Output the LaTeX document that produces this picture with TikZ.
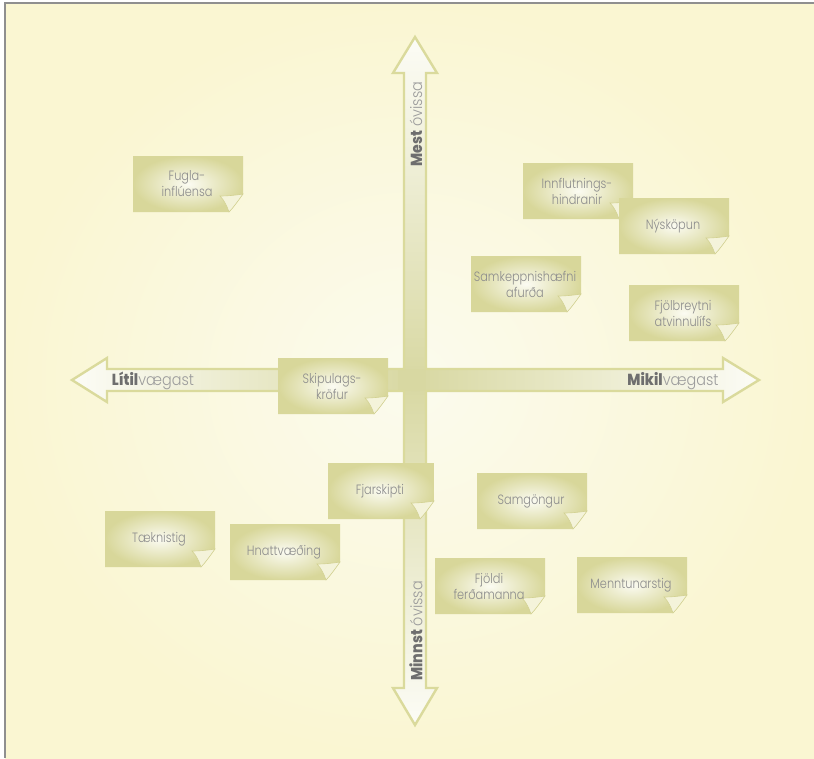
\documentclass[tikz,border=0pt]{standalone}
\usepackage{fontspec}
\setmainfont{Poppins}
\newfontfamily\lightfont{Poppins Light}[FakeStretch=0.84]
\newfontfamily\axisfont{Poppins Light}[FakeStretch=0.9]
\newfontfamily\axisbold{Poppins ExtraBold}[FakeStretch=0.88]

\definecolor{bginner}{HTML}{FBFBEE}
\definecolor{bgouter}{HTML}{FAF6D2}
\definecolor{framegray}{HTML}{8F8F8F}
\definecolor{arrowline}{HTML}{DADA9C}
\definecolor{arrowlight}{HTML}{FCFCF6}
\definecolor{arrowmid}{HTML}{EEEED6}
\definecolor{arrowdark}{HTML}{D8D8A2}
\definecolor{noteouter}{HTML}{D8D79A}
\definecolor{noteinner}{HTML}{FBFBF2}
\definecolor{curlfill}{HTML}{F4F3DA}
\definecolor{curlline}{HTML}{D2D192}
\definecolor{notegray}{HTML}{8C8C8C}
\definecolor{boldgray}{HTML}{6E6E6E}
\definecolor{lightgray}{HTML}{9C9C9C}

\tikzset{
  notebody/.style={inner color=noteinner, outer color=noteouter},
  curlpiece/.style={fill=curlfill, draw=curlline, line width=0.6},
  notetext/.style={font=\lightfont\fontsize{13.5}{16}\selectfont, text=notegray,
    align=center, inner sep=0pt},
  axistext/.style={font=\axisfont\fontsize{16}{18}\selectfont, text=lightgray, inner sep=0pt},
  crossline/.style={draw=arrowline, line width=2.4, line join=miter},
}

% sticky note: name, left, top, width, text
\newcommand{\stickynote}[5]{%
  \begin{scope}[shift={(#2,#3)}]
    \shade[notebody] (0,0) -- (#4,0) -- (#4,38)
      .. controls ({#4-5},45) and ({#4-10},52) .. ({#4-14},56) -- (0,56) -- cycle;
    \path[curlpiece] ({#4-23},40) .. controls ({#4-15},40) and ({#4-6},39) .. (#4,38)
      .. controls ({#4-5},45) and ({#4-10},52) .. ({#4-14},56)
      .. controls ({#4-16},50) and ({#4-19},44) .. ({#4-23},40) -- cycle;
    \node[notetext] (#1) at ({#4/2-1},28) {#5};
  \end{scope}}

\begin{document}
\begin{tikzpicture}[x=1pt,y=-1pt]
\useasboundingbox (0,0) rectangle (814,758);

% page and frame
\fill[white] (0,0) rectangle (814,758);
\shade[inner color=bginner, outer color=bgouter] (5,3) rectangle (814,758);
\draw[framegray, line width=1.6] (5,758) -- (5,3) -- (814,3);

% four arrows, shaded from the centre outwards
\shade[top color=arrowlight, middle color=arrowmid, bottom color=arrowdark]
  (404,380) -- (404,73) -- (393,73) -- (415,37) -- (437,73) -- (426,73) -- (426,380) -- cycle;
\shade[top color=arrowdark, middle color=arrowmid, bottom color=arrowlight]
  (404,380) -- (404,688) -- (393,688) -- (415,725) -- (437,688) -- (426,688) -- (426,380) -- cycle;
\shade[left color=arrowlight, middle color=arrowmid, right color=arrowdark]
  (415,369) -- (107,369) -- (107,358) -- (72,380) -- (107,402) -- (107,391) -- (415,391) -- cycle;
\shade[left color=arrowdark, middle color=arrowmid, right color=arrowlight]
  (415,369) -- (723,369) -- (723,358) -- (759,380) -- (723,402) -- (723,391) -- (415,391) -- cycle;
\fill[arrowdark] (398,369) rectangle (426,391);

% outline of the cross
\path[crossline] (404,369) -- (404,73) -- (393,73) -- (415,37) -- (437,73) -- (426,73)
  -- (426,369) -- (723,369) -- (723,358) -- (759,380) -- (723,402) -- (723,391)
  -- (426,391) -- (426,688) -- (437,688) -- (415,725) -- (393,688) -- (404,688)
  -- (404,391) -- (107,391) -- (107,402) -- (72,380) -- (107,358) -- (107,369) -- cycle;

% axis labels
\node[axistext] (lowlabel) at (153,381) {\textcolor{boldgray}{\axisbold Lítil}vægast};
\node[axistext] (highlabel) at (673,381) {\textcolor{boldgray}{\axisbold Mikil}vægast};
\node[axistext, rotate=90] (mostlabel) at (416,124) {\textcolor{boldgray}{\axisbold Mest} óvissa};
\node[axistext, rotate=90] (leastlabel) at (416,631) {\textcolor{boldgray}{\axisbold Minnst} óvissa};

% sticky notes
\stickynote{flu}{133}{156}{110}{Fugla-\\inflúensa}
\stickynote{barriers}{523}{163}{110}{Innflutnings-\\hindranir}
\stickynote{innovation}{619}{198}{110}{Nýsköpun}
\stickynote{competitive}{471}{256}{110}{Samkeppnishæfni\\afurða}
\stickynote{diversity}{629}{285}{110}{Fjölbreytni\\atvinnulífs}
\stickynote{planning}{278}{358}{110}{Skipulags-\\kröfur}
\stickynote{telecom}{328}{463}{106}{Fjarskipti}
\stickynote{transport}{477}{473}{110}{Samgöngur}
\stickynote{technology}{105}{511}{110}{Tæknistig}
\stickynote{globalisation}{230}{524}{110}{Hnattvæðing}
\stickynote{tourists}{435}{558}{110}{Fjöldi\\ferðamanna}
\stickynote{education}{577}{557}{110}{Menntunarstig}
\end{tikzpicture}
\end{document}
